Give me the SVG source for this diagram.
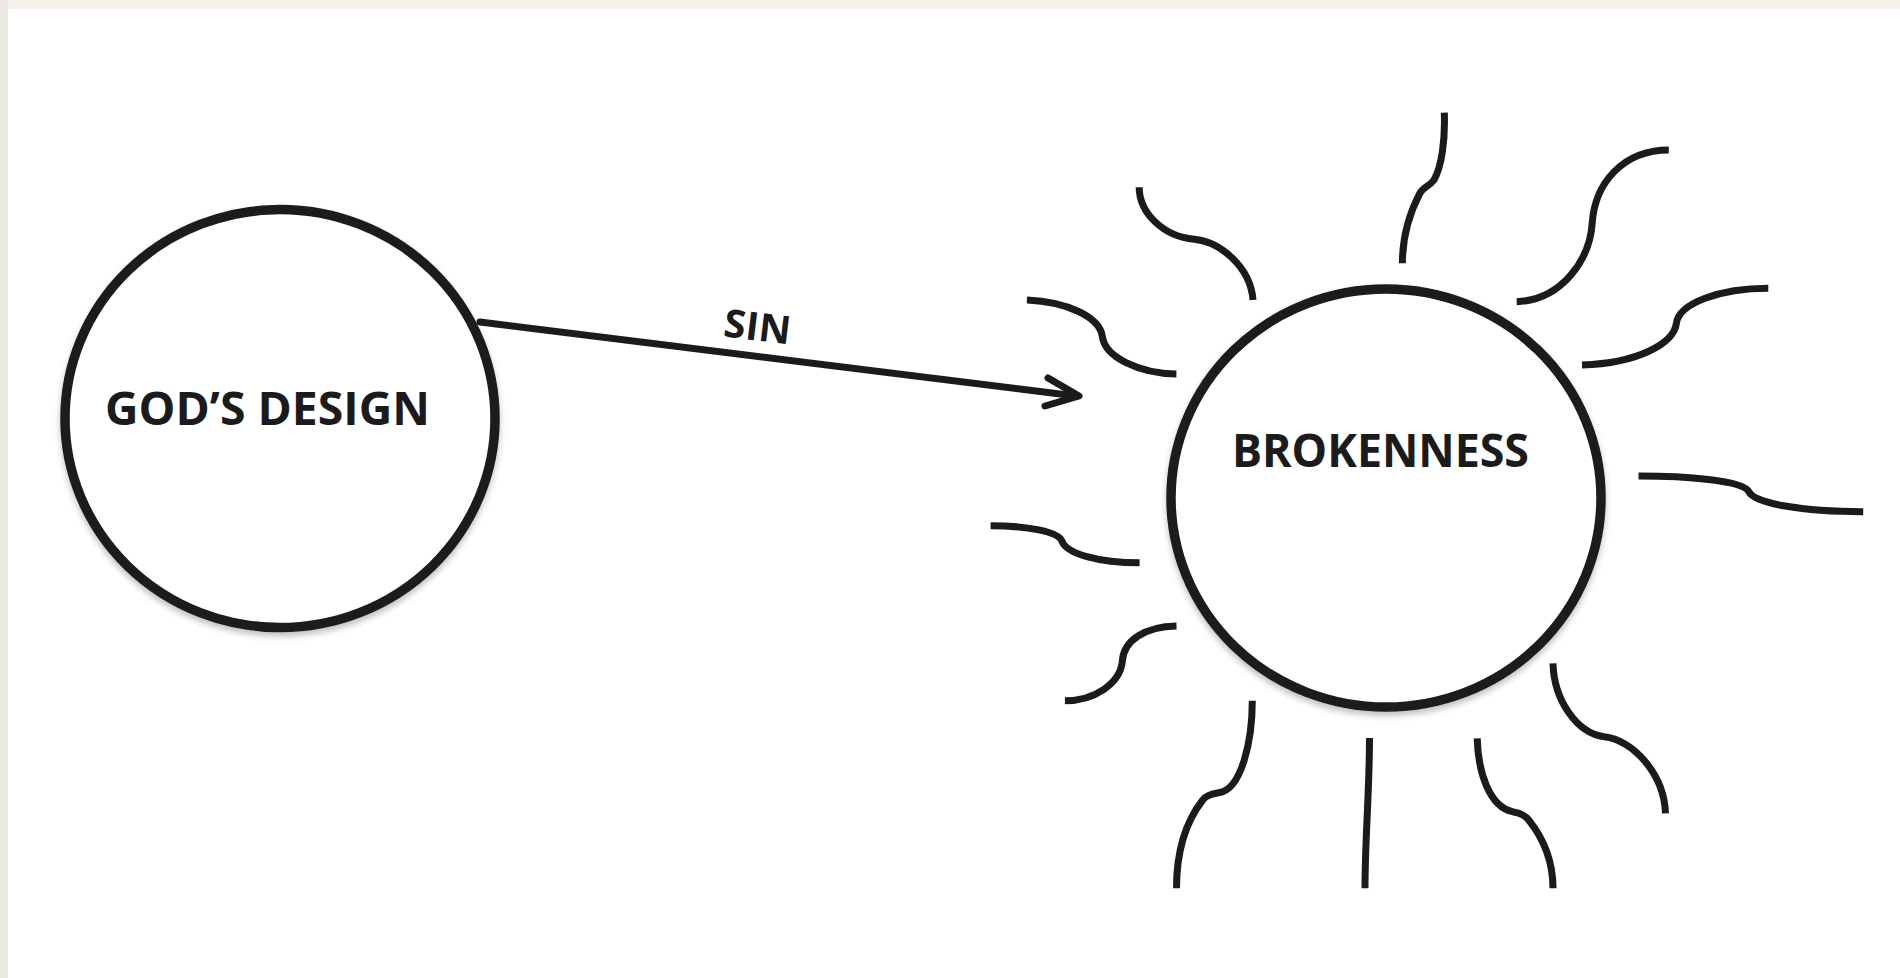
<svg xmlns="http://www.w3.org/2000/svg" width="1900" height="978" viewBox="0 0 1900 978">
<style>
.node{fill:#ffffff;stroke:#1b1b1b;stroke-width:9.5}
.lbl{font-family:"Open Sans",Lato,"Liberation Sans",sans-serif;font-weight:700;fill:#1b1b1b}
.ray{fill:none;stroke:#1b1b1b;stroke-width:7;stroke-linecap:butt}
.conn{fill:none;stroke:#1b1b1b;stroke-width:7;stroke-linecap:round;stroke-linejoin:round}
</style>
<defs>
<filter id="sh" x="-10%" y="-10%" width="120%" height="125%">
<feDropShadow dx="0" dy="4" stdDeviation="3" flood-color="#000" flood-opacity="0.25"/>
</filter>
</defs>
<rect x="0" y="0" width="1900" height="978" fill="#ffffff"/>
<rect x="0" y="0" width="1900" height="9" fill="#f5f2eb"/>
<rect x="0" y="0" width="8" height="978" fill="#ebe8e1"/>

<g id="connectors">
<path class="conn" d="M480,322 L1076,396"/>
<path class="conn" d="M1048,378 L1079,396 L1045,406"/>
<text class="lbl" font-size="39" text-anchor="middle" transform="translate(757.5,326.5) rotate(7)" y="14" textLength="67" lengthAdjust="spacingAndGlyphs">SIN</text>
</g>

<g id="gods-design">
<ellipse class="node" cx="280" cy="418.5" rx="215" ry="209" filter="url(#sh)"/>
<text class="lbl" x="267.5" y="425" font-size="46" text-anchor="middle" textLength="325" lengthAdjust="spacingAndGlyphs">GOD’S DESIGN</text>
</g>

<g id="brokenness">
<ellipse class="node" cx="1386" cy="498" rx="215" ry="209" filter="url(#sh)"/>
<text class="lbl" x="1380.5" y="467" font-size="47" text-anchor="middle" textLength="297" lengthAdjust="spacingAndGlyphs">BROKENNESS</text>
<g id="rays">
<path class="ray" d="M1139.2,187.3 C1139.2,213.3 1163.7,236.7 1194.3,239.3 C1219.8,241.7 1250.4,266.7 1253,300"/>
<path class="ray" d="M1444.3,112.7 C1445.3,140 1441.7,166.7 1434,180 C1429,186.7 1422.9,187.3 1419.8,193.3 C1411.1,210 1402.4,233.3 1402.4,263.3"/>
<path class="ray" d="M1668.8,150 C1622.9,150 1594.8,183.3 1592.2,223.3 C1589.7,260 1561.6,300 1516.7,301.7"/>
<path class="ray" d="M1768.3,288.3 C1719.8,288.3 1679,303.3 1676.4,323.3 C1673.9,343.3 1638.2,363.3 1582,365"/>
<path class="ray" d="M1026.9,300 C1066.7,301.7 1099.9,316.7 1102.4,336.7 C1105,356.7 1138.2,373.3 1176.4,374"/>
<path class="ray" d="M1638.5,476 C1684.2,476 1742.9,480 1748.8,491.7 C1754.6,503.3 1801.6,511.7 1863.2,511.7"/>
<path class="ray" d="M990.6,525.7 C1026.9,525.7 1059.2,531.7 1062.2,541.7 C1066.9,553.3 1097.4,562.7 1139.6,562.7"/>
<path class="ray" d="M1176.5,626 C1145.3,626.7 1123.3,640 1122.3,661.7 C1120,683.3 1094.8,700.7 1064.9,700.7"/>
<path class="ray" d="M1252.3,700.7 C1252.3,740 1241.7,790 1218.7,792.7 C1209.6,794 1205,796.7 1202.7,800 C1182,826.7 1176.5,860 1176.5,888.3"/>
<path class="ray" d="M1369.5,738 C1369.5,790 1365,840 1365,888.3"/>
<path class="ray" d="M1477.2,738.3 C1478.2,773.3 1489.6,806.7 1512.6,811.7 C1521.8,813.3 1526.4,816.7 1528.7,820 C1544.7,840 1553,863.3 1553,888.3"/>
<path class="ray" d="M1553,663.3 C1553.9,700 1576.9,733.3 1604.2,736.7 C1632,739.3 1664.1,773.3 1665.5,813.3"/>
</g>
</g>
</svg>
